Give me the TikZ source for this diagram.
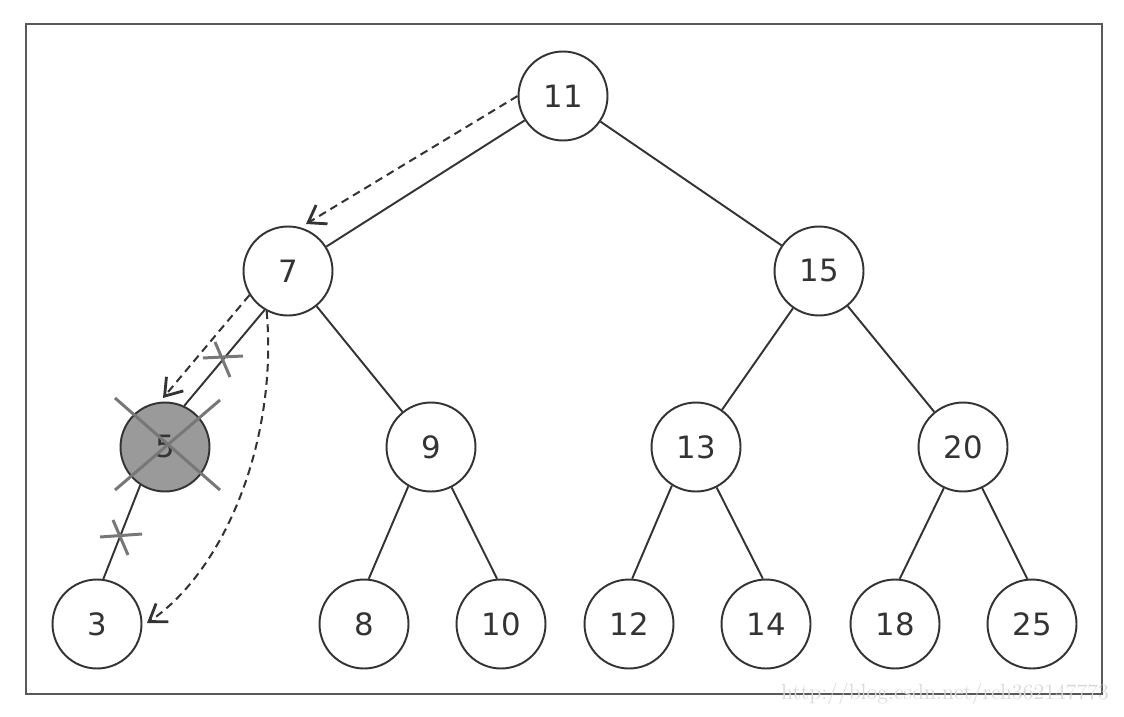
\documentclass[tikz,border=0pt]{standalone}
\usepackage{fontspec}
\setsansfont{DejaVu Sans}
\usepackage{tikz}
\usetikzlibrary{arrows.meta}

\definecolor{ink}{HTML}{333333}
\definecolor{cutgray}{HTML}{777777}
\definecolor{gone}{HTML}{9A9A9A}

\begin{document}
\begin{tikzpicture}[x=0.02cm,y=-0.02cm,
		vertex/.style={circle,draw=ink,line width=1.1pt,fill=white,minimum size=1.78cm,inner sep=0pt,text=ink,font=\sffamily\fontsize{17.5}{19}\selectfont},
		removed/.style={vertex,fill=gone},
		edge/.style={draw=ink,line width=1.1pt},
		walk/.style={draw=ink,line width=1.15pt,dash pattern=on 4.5pt off 3pt,-{Straight Barb[length=3.2mm,width=4.4mm,line width=1.6pt]}},
		cut/.style={draw=cutgray,line width=1.7pt}]
		\useasboundingbox (0,0) rectangle (1124,716);
		\draw[line width=1.5pt,draw=black!65] (26,24) rectangle (1102,694);
		\node[gray!30,font=\rmfamily\fontsize{12.5}{12.5}\selectfont] (mark) at (945,694) {http://blog.csdn.net/rch362147773};
		% the tree
		\node[vertex] (n11) at (563,96) {11};
		\node[vertex] (n7) at (288,271) {7};
		\node[vertex] (n15) at (819,271) {15};
		\node[removed] (n5) at (165,447) {5};
		\node[vertex] (n9) at (431,447) {9};
		\node[vertex] (n13) at (696,447) {13};
		\node[vertex] (n20) at (963,447) {20};
		\node[vertex] (n3) at (97,624) {3};
		\node[vertex] (n8) at (364,624) {8};
		\node[vertex] (n10) at (501,624) {10};
		\node[vertex] (n12) at (629,624) {12};
		\node[vertex] (n14) at (766,624) {14};
		\node[vertex] (n18) at (895,624) {18};
		\node[vertex] (n25) at (1032,624) {25};
		\draw[edge] (n11) -- (n7);
		\draw[edge] (n11) -- (n15);
		\draw[edge] (n7.239) -- (n5.65);
		\draw[edge] (n7) -- (n9);
		\draw[edge] (n15) -- (n13);
		\draw[edge] (n15) -- (n20);
		\draw[edge] (n5.237) -- (n3.82);
		\draw[edge] (n9.240) -- (n8.84);
		\draw[edge] (n9.297) -- (n10.95);
		\draw[edge] (n13.238) -- (n12.86);
		\draw[edge] (n13.297) -- (n14.94);
		\draw[edge] (n20.245) -- (n18.84);
		\draw[edge] (n20.295) -- (n25.96);
		% cut marks
		\draw[cut] (115,398) -- (220,490) (220,400) -- (115,490);
		\draw[cut] (203,358) -- (243,356) (215,342) -- (230,377);
		\draw[cut] (100,537) -- (142,534) (113,520) -- (128,555);
		% search path
		\coordinate (tip7) at (306,224);
		\coordinate (tip5) at (163,398);
		\coordinate (tip3) at (147,623);
		\draw[walk] (n11.180) -- (tip7);
		\draw[walk] (n7.212) -- (tip5);
		\draw[walk] (n7.242) .. controls (278,440) and (225,570) .. (tip3);
	\end{tikzpicture}
\end{document}
